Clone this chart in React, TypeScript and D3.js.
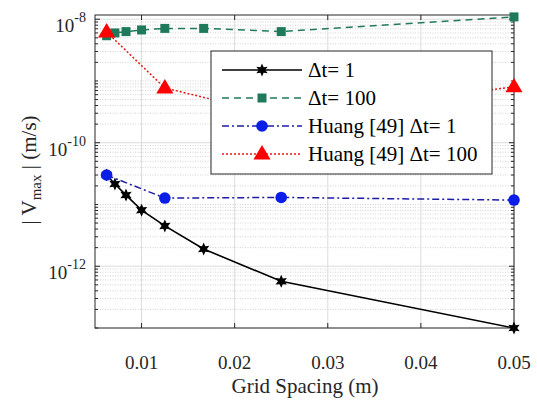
import React from "react";
import * as d3 from "d3";

const gridSpacing = [0.00625, 0.00714, 0.00833, 0.01, 0.0125, 0.01667, 0.025, 0.05];
const vmaxDt1 = [3.0e-11, 2.15e-11, 1.42e-11, 8.1e-12, 4.5e-12, 1.9e-12, 5.7e-13, 1.0e-13];
const vmaxDt100 = [5.4e-9, 6.0e-9, 6.3e-9, 6.7e-9, 7.1e-9, 7.1e-9, 6.3e-9, 1.09e-8];
const huangSpacing = [0.00625, 0.0125, 0.025, 0.05];
const huangDt1 = [3.0e-11, 1.27e-11, 1.3e-11, 1.18e-11];
const huangDt100 = [6.2e-9, 7.7e-10, 2.7e-10, 8.0e-10];

const xTicks = [0.01, 0.02, 0.03, 0.04, 0.05];
const xTickLabels = ["0.01", "0.02", "0.03", "0.04", "0.05"];
const yTickExps = [-12, -10, -8];
const legendLabels = ["\u0394t= 1", "\u0394t= 100", "Huang [49] \u0394t= 1", "Huang [49] \u0394t= 100"];

const W = 537, H = 403;
const L = 95, R = 514, T = 15, B = 328;

const x = d3.scaleLinear().domain([0.005, 0.05]).range([L, R]);
const y = d3.scaleLog().domain([1e-13, 1.17e-8]).range([B, T]);

function star(cx: number, cy: number, r: number) {
  const pts: string[] = [];
  for (let i = 0; i < 12; i++) {
    const a = -Math.PI / 2 + (i * Math.PI) / 6;
    const rr = i % 2 === 0 ? r : r * 0.5;
    pts.push(`${cx + rr * Math.cos(a)},${cy + rr * Math.sin(a)}`);
  }
  return `M${pts.join("L")}Z`;
}

function tri(cx: number, cy: number, r: number) {
  return `M${cx},${cy - r}L${cx + r * 0.95},${cy + r * 0.6}L${cx - r * 0.95},${cy + r * 0.6}Z`;
}

const series = [
  { xs: gridSpacing, ys: vmaxDt1, line: "#000000", mark: "#000000", dash: "", marker: "star" },
  { xs: gridSpacing, ys: vmaxDt100, line: "#1f7a5c", mark: "#1f7a5c", dash: "7,5", marker: "square" },
  { xs: huangSpacing, ys: huangDt1, line: "#1c1ca8", mark: "#0a1ee8", dash: "7,3,2,3", marker: "circle" },
  { xs: huangSpacing, ys: huangDt100, line: "#e41a1a", mark: "#ff0000", dash: "2,2", marker: "triangle" },
];

function Marker({ kind, cx, cy, color }: { kind: string; cx: number; cy: number; color: string }) {
  if (kind === "star") return <path d={star(cx, cy, 6.5)} fill={color} />;
  if (kind === "square") return <rect x={cx - 4.5} y={cy - 4.5} width={9} height={9} fill={color} />;
  if (kind === "circle") return <circle cx={cx} cy={cy} r={5.8} fill={color} />;
  return <path d={tri(cx, cy, 9)} fill={color} />;
}

export default function App() {
  const line = d3
    .line<[number, number]>()
    .x((d) => x(d[0]))
    .y((d) => y(d[1]));

  const minor: number[] = [];
  for (let e = -13; e <= -8; e++) {
    for (let m = 1; m <= 9; m++) {
      const v = m * Math.pow(10, e);
      if (v < 1e-13 || v > 1.17e-8) continue;
      if (m === 1 && yTickExps.includes(e)) continue;
      minor.push(v);
    }
  }

  const legX = 211, legY = 51, legW = 281, legH = 123;
  const rowY = [70, 98, 126, 154];

  return (
    <div style={{ fontFamily: "Liberation Serif" }}>
    <svg width={W} height={H} style={{ position: "absolute", left: 0, top: 0, background: "#fff", fontFamily: "Liberation Serif" }}>
      <rect x={0} y={0} width={W} height={H} fill="#fff" />
      {minor.map((v, i) => (
        <line key={"mg" + i} x1={L} x2={R} y1={y(v)} y2={y(v)} stroke="#c8c8c8" strokeWidth={0.8} strokeDasharray="1,1.5" />
      ))}
      {xTicks.map((v, i) => (
        <line key={"xg" + i} x1={x(v)} x2={x(v)} y1={T} y2={B} stroke="#dcdcdc" strokeWidth={1} />
      ))}
      {yTickExps.map((e, i) => (
        <line key={"yg" + i} x1={L} x2={R} y1={y(Math.pow(10, e))} y2={y(Math.pow(10, e))} stroke="#dcdcdc" strokeWidth={1} />
      ))}
      {xTicks.map((v, i) => (
        <g key={"xt" + i}>
          <line x1={x(v)} x2={x(v)} y1={B} y2={B - 5} stroke="#262626" />
          <line x1={x(v)} x2={x(v)} y1={T} y2={T + 5} stroke="#262626" />
          <text x={x(v)} y={369} textAnchor="middle" fontSize={19} fill="#262626" fontFamily="Liberation Serif">{xTickLabels[i]}</text>
        </g>
      ))}
      {minor.map((v, i) => (
        <g key={"mt" + i}>
          <line x1={L} x2={L + 3} y1={y(v)} y2={y(v)} stroke="#262626" />
          <line x1={R} x2={R - 3} y1={y(v)} y2={y(v)} stroke="#262626" />
        </g>
      ))}
      {yTickExps.map((e, i) => {
        const yy = y(Math.pow(10, e));
        return (
          <g key={"yt" + i}>
            <line x1={L} x2={L + 5} y1={yy} y2={yy} stroke="#262626" />
            <line x1={R} x2={R - 5} y1={yy} y2={yy} stroke="#262626" />
            <text x={86} y={yy + 13} textAnchor="end" fontSize={19} fill="#262626" fontFamily="Liberation Serif">
              10<tspan fontSize={14} dy={-10}>{String(e)}</tspan>
            </text>
          </g>
        );
      })}
      <rect x={L} y={T} width={R - L} height={B - T} fill="none" stroke="#262626" strokeWidth={1} />
      {series.map((s, i) => {
        const pts = s.xs.map((xv, j) => [xv, s.ys[j]] as [number, number]);
        return (
          <g key={"s" + i}>
            <path d={line(pts) || ""} fill="none" stroke={s.line} strokeWidth={i === 0 ? 1.6 : 1.5} strokeDasharray={s.dash} />
            {pts.map((p, j) => (
              <Marker key={j} kind={s.marker} cx={x(p[0])} cy={y(p[1])} color={s.mark} />
            ))}
          </g>
        );
      })}
      <rect x={legX} y={legY} width={legW} height={legH} fill="#fff" stroke="#262626" strokeWidth={1} />
      {series.map((s, i) => (
        <g key={"lg" + i}>
          <line x1={222} x2={302} y1={rowY[i]} y2={rowY[i]} stroke={s.line} strokeWidth={1.5} strokeDasharray={s.dash} />
          <Marker kind={s.marker} cx={262} cy={rowY[i]} color={s.mark} />
          <text x={308} y={rowY[i] + 7} fontSize={21} fill="#000" fontFamily="Liberation Serif">{legendLabels[i]}</text>
        </g>
      ))}
      <text x={305} y={393} textAnchor="middle" fontSize={21} fill="#262626" fontFamily="Liberation Serif">Grid Spacing (m)</text>
      <text transform="translate(36,170) rotate(-90)" textAnchor="middle" fontSize={21} fill="#262626" fontFamily="Liberation Serif">
        | V<tspan fontSize={15} dy={5}>max</tspan><tspan dy={-5}> | (m/s)</tspan>
      </text>
    </svg>
    </div>
  );
}
